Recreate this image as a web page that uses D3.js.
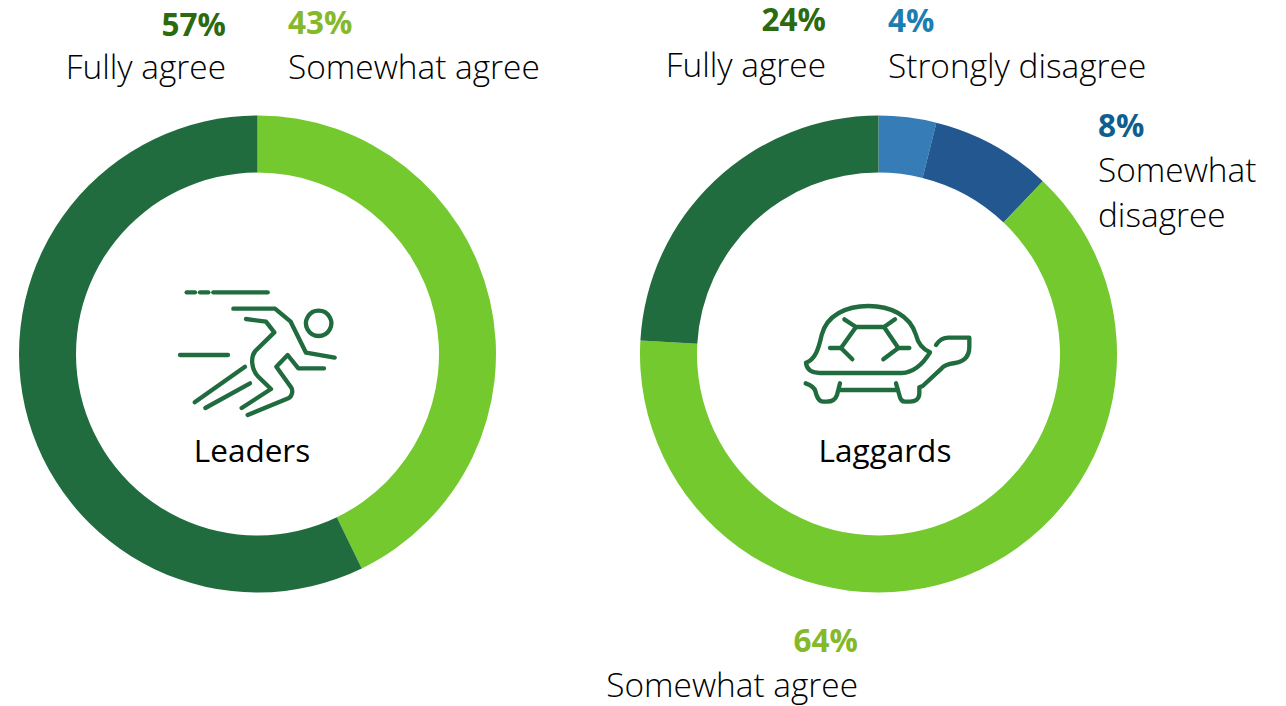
<!DOCTYPE html>
<html>
<head>
<meta charset="utf-8">
<script src="https://cdn.jsdelivr.net/npm/d3@7"></script>
<style>
  html, body { margin: 0; padding: 0; background: #fff; }
  svg { display: block; }
  text { font-family: "Open Sans", sans-serif; font-size: 33.4px; font-weight: 300; fill: #000; }
  .pct { font-weight: 700; font-size: 31.5px; }
  .name { font-weight: 400; font-size: 31.5px; }
  .icon path { fill: none; stroke: #216c3f; stroke-width: 13; stroke-linecap: round; stroke-linejoin: round; }
</style>
</head>
<body>
<svg id="chart" width="1286" height="706"></svg>
<script>
// Chart values (slices look slightly off the rounded labels)
const answers = ['Strongly disagree', 'Somewhat disagree', 'Somewhat agree', 'Fully agree'];
const answerColors = ['#367db8', '#235790', '#73c92d', '#216c3f'];
const leaderValues = [0, 0, 42.8, 57.2];
const laggardValues = [3.9, 8.2, 63.8, 24.1];
const groupNames = ['Leaders', 'Laggards'];

const svg = d3.select('#chart');
const color = d3.scaleOrdinal().domain(answers).range(answerColors);
const pie = d3.pie().sort(null);
const arc = d3.arc().innerRadius(181.5).outerRadius(238.5);

function drawDonut(values, cx, cy) {
  const g = svg.append('g').attr('transform', `translate(${cx},${cy})`);
  g.selectAll('path')
    .data(pie(values))
    .join('path')
    .attr('d', arc)
    .attr('fill', (d, i) => color(answers[i]));
}

drawDonut(leaderValues, 257.5, 354);
drawDonut(laggardValues, 878.5, 354);

// Labels: percent in bold over the answer text
function label(x, y, gap, anchor, value, pctColor, lines) {
  svg.append('text').attr('class', 'pct').attr('x', x).attr('y', y)
    .attr('text-anchor', anchor).style('fill', pctColor).text(Math.round(value) + '%');
  lines.forEach((line, i) => {
    svg.append('text').attr('x', x).attr('y', y + gap + i * 45)
      .attr('text-anchor', anchor).text(line);
  });
}

label(226, 36, 43, 'end', leaderValues[3], '#2b6a0f', ['Fully agree']);
label(288, 34, 45, 'start', leaderValues[2], '#85b92a', ['Somewhat agree']);
label(826, 31, 46, 'end', laggardValues[3], '#2b6a0f', ['Fully agree']);
label(888, 32, 46, 'start', laggardValues[0], '#1c7eb0', ['Strongly disagree']);
label(1098, 137, 45, 'start', laggardValues[1], '#0f5e8e', ['Somewhat', 'disagree']);
label(858, 652, 45, 'end', laggardValues[2], '#85b92a', ['Somewhat agree']);

svg.append('text').attr('class', 'name').attr('x', 252).attr('y', 462)
  .attr('text-anchor', 'middle').text(groupNames[0]);
svg.append('text').attr('class', 'name').attr('x', 885).attr('y', 462)
  .attr('text-anchor', 'middle').text(groupNames[1]);

// Icons, traced at 3x and scaled down
const runner = [
  'M80,67H105', 'M120,67H145', 'M160,67H323',
  'M220,116H345L392,155L438,248L524,263',
  'M258,147L318,155L343,187L286,243C270,262 275,300 295,320L333,357L245,414',
  'M60,255H204',
  'M255,290L104,397', 'M270,340L136,414',
  'M263,435L385,385C398,378 400,360 392,350L349,290L383,255L415,295H492',
  'M476,122A38,38 0 1,1 475.9,122Z'
];
const turtle = [
  'M48,218C75,208 85,180 95,135C110,75 170,48 235,48C300,48 360,75 378,135C385,165 400,178 420,187C400,220 375,247 335,249H90C65,249 50,240 48,218',
  'M163,88L198,111H282L315,88', 'M198,111L153,174H120', 'M153,174L187,208',
  'M282,111L325,174H358', 'M325,174L280,208',
  'M438,165C448,150 458,143 475,143H538V170C538,200 520,215 495,219C475,222 462,225 455,235L398,288L388,292V310C388,328 375,335 360,335H345C335,335 330,325 328,315L318,280',
  'M323,300H150', 'M150,280L141,315C136,330 125,335 110,335H100C85,335 80,320 76,303C72,290 62,285 47,280'
];

function drawIcon(paths, x, y) {
  svg.append('g').attr('class', 'icon')
    .attr('transform', `translate(${x},${y}) scale(${1 / 3})`)
    .selectAll('path').data(paths).join('path').attr('d', d => d);
}
drawIcon(runner, 160, 270);
drawIcon(turtle, 790, 290);
</script>
</body>
</html>
